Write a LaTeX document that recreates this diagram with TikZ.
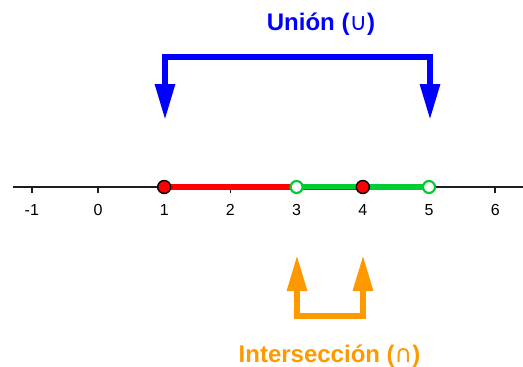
\documentclass[tikz,border=0pt]{standalone}
\usepackage{fontspec}
\setmainfont{Liberation Sans}
\newfontfamily\symfont{DejaVu Sans}
\usetikzlibrary{arrows.meta}
\definecolor{ublue}{RGB}{0,0,255}
\definecolor{iorange}{RGB}{255,153,0}
\definecolor{sred}{RGB}{255,0,0}
\definecolor{sgreen}{RGB}{0,204,51}
\definecolor{axisgray}{RGB}{30,30,30}
\tikzset{
  axisline/.style={axisgray, line width=2pt},
  tickmark/.style={axisgray, line width=1.6pt},
  ticklabel/.style={font=\fontsize{16}{16}\selectfont, inner sep=0pt},
  bracket/.style={line width=6pt, line join=miter, line cap=butt,
    arrows={Triangle[length=36pt,width=19pt]-Triangle[length=36pt,width=19pt]}},
  closeddot/.style={circle, draw=black, line width=1.4pt, fill=sred, minimum size=13pt, inner sep=0pt},
  opendot/.style={circle, draw=sgreen, line width=2.2pt, fill=white, minimum size=12pt, inner sep=0pt},
  title/.style={font=\fontsize{24}{24}\selectfont\bfseries, inner sep=0pt, anchor=base}
}
\begin{document}
\begin{tikzpicture}[x=1pt,y=-1pt]
\useasboundingbox (0,0) rectangle (523,367);
% axis
\coordinate (axL) at (13,187);
\coordinate (axR) at (523,187);
\draw[axisline] (axL) -- (axR);
% ticks and labels
\foreach \n/\lab in {-1/-1,0/0,1/1,2/2,3/3,4/4,5/5,6/6} {
  \coordinate (t\n) at ({98+66.2*\n},187);
  \coordinate (tb\n) at ({98+66.2*\n},193);
  \draw[tickmark] (t\n) -- (tb\n);
  \node[ticklabel] (l\n) at ({98+66.2*\n},210) {\lab};
}
% segments
\draw[sred, line width=6pt] (t1) -- (t3);
\draw[sred, line width=1.5pt] ([yshift=-2.5pt]t3) -- ([yshift=-2.5pt]t4);
\draw[sgreen, line width=5pt] ([yshift=0.6pt]t3) -- ([yshift=0.6pt]t4);
\draw[sgreen, line width=6pt] (t4) -- (t5);
% dots
\node[closeddot] (d1) at (t1) {};
\node[opendot] (d3) at (t3) {};
\node[closeddot] (d4) at (t4) {};
\node[opendot] (d5) at (t5) {};
% union bracket
\coordinate (uL) at (165,120);
\coordinate (uLc) at (165,57);
\coordinate (uRc) at (430,57);
\coordinate (uR) at (430,120);
\draw[bracket, ublue] (uL) -- (uLc) -- (uRc) -- (uR);
\node[title, text=ublue] (union) at (321,30) {Unión ({\symfont\mdseries ∪})};
% intersection bracket
\coordinate (iL) at (297,255);
\coordinate (iLc) at (297,316);
\coordinate (iRc) at (363,316);
\coordinate (iR) at (363,255);
\draw[bracket, iorange] (iL) -- (iLc) -- (iRc) -- (iR);
\node[title, text=iorange] (inter) at (329.5,362) {Intersección ({\symfont\mdseries ∩})};
\end{tikzpicture}
\end{document}
